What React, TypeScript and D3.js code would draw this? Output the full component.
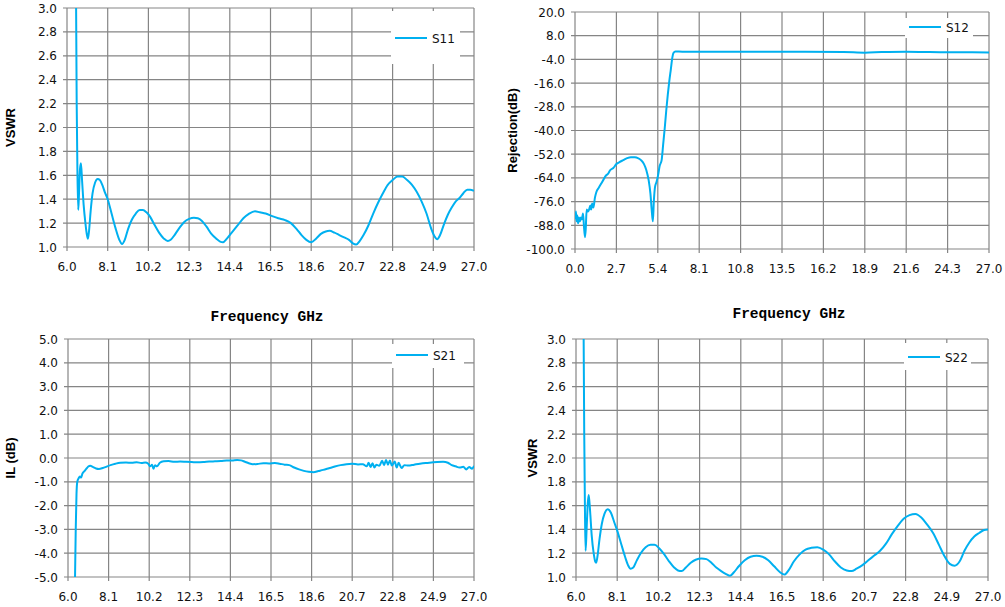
import React from 'react';
import * as d3 from 'd3';

// S11 - VSWR, 6..27 GHz
const s11Freq = [6.47, 6.5, 6.54, 6.58, 6.62, 6.67, 6.72, 6.78, 6.86, 6.95, 7.03, 7.08, 7.14, 7.22, 7.32, 7.45, 7.58, 7.7, 7.82, 7.95, 8.1, 8.3, 8.5, 8.7, 8.84, 8.98, 9.15, 9.35, 9.55, 9.75, 9.92, 10.1, 10.3, 10.5, 10.75, 11.0, 11.2, 11.35, 11.55, 11.8, 12.05, 12.3, 12.55, 12.75, 12.95, 13.2, 13.45, 13.7, 13.9, 14.05, 14.25, 14.5, 14.8, 15.1, 15.4, 15.7, 15.95, 16.25, 16.55, 16.9, 17.25, 17.55, 17.85, 18.1, 18.35, 18.6, 18.85, 19.1, 19.35, 19.55, 19.8, 20.05, 20.3, 20.55, 20.75, 20.92, 21.1, 21.3, 21.55, 21.8, 22.05, 22.3, 22.55, 22.8, 23.05, 23.3, 23.55, 23.8, 24.05, 24.3, 24.55, 24.8, 25.0, 25.1, 25.25, 25.45, 25.65, 25.85, 26.05, 26.25, 26.45, 26.65, 26.8, 27.0];
const s11Vswr = [3.0, 2.2, 1.6, 1.31, 1.45, 1.65, 1.7, 1.55, 1.35, 1.2, 1.1, 1.07, 1.14, 1.3, 1.45, 1.54, 1.57, 1.56, 1.52, 1.46, 1.4, 1.28, 1.16, 1.06, 1.025, 1.06, 1.15, 1.23, 1.28, 1.31, 1.31, 1.29, 1.25, 1.19, 1.12, 1.07, 1.05, 1.06, 1.1, 1.16, 1.21, 1.235, 1.245, 1.24, 1.22, 1.17, 1.11, 1.07, 1.045, 1.04, 1.07, 1.12, 1.18, 1.24, 1.28, 1.3, 1.29, 1.28, 1.26, 1.24, 1.225, 1.2, 1.15, 1.1, 1.06, 1.04, 1.07, 1.11, 1.13, 1.135, 1.12, 1.1, 1.08, 1.06, 1.03, 1.02, 1.05, 1.1, 1.18, 1.28, 1.37, 1.45, 1.52, 1.56, 1.59, 1.59, 1.56, 1.52, 1.46, 1.38, 1.28, 1.15, 1.08, 1.065, 1.1, 1.19, 1.27, 1.33, 1.38, 1.41, 1.45, 1.48, 1.48, 1.47];

// S12 - rejection, 0..27 GHz
const s12Freq = [0.02, 0.06, 0.1, 0.15, 0.2, 0.26, 0.32, 0.38, 0.45, 0.52, 0.58, 0.65, 0.7, 0.76, 0.85, 0.92, 1.0, 1.05, 1.12, 1.2, 1.3, 1.4, 1.55, 1.7, 1.85, 2.0, 2.15, 2.3, 2.5, 2.7, 2.9, 3.15, 3.4, 3.65, 3.9, 4.1, 4.3, 4.5, 4.65, 4.8, 4.92, 5.0, 5.08, 5.14, 5.22, 5.32, 5.41, 5.52, 5.65, 5.75, 5.85, 5.95, 6.05, 6.15, 6.25, 6.35, 6.42, 6.55, 7.0, 9.0, 12.0, 15.0, 17.5, 18.9, 20.0, 21.6, 23.0, 24.3, 25.5, 27.0];
const s12Rej = [-85, -81, -86, -83, -87, -84, -86, -84, -85, -82, -88, -94, -90, -80, -81, -80, -78, -80, -77, -79, -74, -71, -69, -67, -65, -63, -62, -60, -59, -57, -56, -55, -54, -53.5, -53.6, -54, -55, -57, -60, -65, -72, -80, -86, -76, -68.5, -66, -63, -58, -55, -47, -39, -30, -22, -15, -9, -3, -0.8, 0, -0.1, -0.1, -0.1, -0.1, -0.2, -0.6, -0.3, -0.1, -0.3, -0.4, -0.4, -0.5];

// S21 - insertion loss, 6..27 GHz
const s21Freq = [6.36, 6.4, 6.44, 6.48, 6.55, 6.62, 6.68, 6.75, 6.85, 6.95, 7.05, 7.15, 7.3, 7.45, 7.6, 7.8, 8.0, 8.2, 8.45, 8.7, 9.0, 9.3, 9.55, 9.8, 10.0, 10.15, 10.25, 10.35, 10.42, 10.5, 10.6, 10.75, 10.95, 11.2, 11.5, 11.8, 12.1, 12.4, 12.7, 13.0, 13.3, 13.6, 13.9, 14.2, 14.5, 14.75, 14.95, 15.15, 15.35, 15.55, 15.8, 16.1, 16.4, 16.7, 16.95, 17.2, 17.45, 17.7, 17.95, 18.2, 18.45, 18.7, 18.95, 19.2, 19.5, 19.8, 20.1, 20.4, 20.7, 21.0, 21.25, 21.45, 21.55, 21.65, 21.75, 21.85, 21.95, 22.1, 22.25, 22.35, 22.45, 22.55, 22.65, 22.75, 22.9, 23.0, 23.1, 23.25, 23.4, 23.6, 23.9, 24.2, 24.5, 24.8, 25.1, 25.4, 25.65, 25.85, 26.05, 26.25, 26.45, 26.6, 26.75, 26.9, 27.0];
const s21Il = [-5.2, -3.0, -1.5, -1.0, -0.85, -0.78, -0.82, -0.65, -0.55, -0.45, -0.36, -0.33, -0.38, -0.44, -0.46, -0.42, -0.36, -0.3, -0.24, -0.2, -0.19, -0.2, -0.18, -0.21, -0.19, -0.24, -0.35, -0.28, -0.45, -0.3, -0.35, -0.2, -0.14, -0.13, -0.16, -0.15, -0.16, -0.17, -0.18, -0.17, -0.15, -0.14, -0.13, -0.11, -0.1, -0.08, -0.1, -0.16, -0.22, -0.26, -0.25, -0.22, -0.23, -0.21, -0.24, -0.28, -0.3, -0.4, -0.48, -0.54, -0.58, -0.6, -0.55, -0.5, -0.43, -0.36, -0.3, -0.26, -0.24, -0.27, -0.26, -0.35, -0.2, -0.38, -0.22, -0.4, -0.28, -0.33, -0.12, -0.3, -0.08, -0.28, -0.1, -0.32, -0.15, -0.4, -0.2, -0.42, -0.3, -0.32, -0.28, -0.24, -0.21, -0.19, -0.17, -0.16, -0.2, -0.3, -0.35, -0.4, -0.37, -0.48, -0.38, -0.45, -0.33];

// S22 - VSWR, 6..27 GHz
const s22Freq = [6.39, 6.42, 6.46, 6.49, 6.54, 6.6, 6.65, 6.72, 6.8, 6.9, 6.98, 7.03, 7.1, 7.2, 7.32, 7.45, 7.62, 7.78, 7.95, 8.1, 8.3, 8.5, 8.65, 8.78, 8.92, 9.1, 9.3, 9.55, 9.8, 10.0, 10.25, 10.5, 10.75, 11.0, 11.2, 11.38, 11.6, 11.85, 12.1, 12.4, 12.65, 12.9, 13.15, 13.4, 13.65, 13.85, 14.05, 14.3, 14.6, 14.9, 15.2, 15.5, 15.8, 16.1, 16.4, 16.62, 16.85, 17.1, 17.4, 17.7, 18.0, 18.3, 18.6, 18.9, 19.2, 19.5, 19.8, 20.05, 20.3, 20.6, 20.9, 21.2, 21.5, 21.8, 22.1, 22.4, 22.7, 23.0, 23.3, 23.6, 23.9, 24.2, 24.5, 24.8, 25.05, 25.3, 25.55, 25.8, 26.05, 26.3, 26.55, 26.8, 27.0];
const s22Vswr = [3.0, 2.2, 1.5, 1.22, 1.4, 1.62, 1.69, 1.55, 1.35, 1.2, 1.13, 1.12, 1.18, 1.32, 1.45, 1.53, 1.57, 1.54, 1.46, 1.39, 1.28, 1.17, 1.1, 1.07, 1.08, 1.14, 1.2, 1.25, 1.27, 1.27, 1.24, 1.19, 1.13, 1.08, 1.055, 1.05, 1.08, 1.12, 1.145, 1.155, 1.15, 1.12, 1.08, 1.05, 1.025, 1.01, 1.04, 1.09, 1.14, 1.17, 1.178, 1.17, 1.14, 1.09, 1.04, 1.02, 1.06, 1.13, 1.19, 1.23, 1.245, 1.25, 1.23, 1.19, 1.13, 1.08, 1.055, 1.05, 1.07, 1.1, 1.14, 1.18, 1.22, 1.28, 1.36, 1.43, 1.49, 1.52, 1.53, 1.5, 1.44, 1.37, 1.27, 1.17, 1.11, 1.095, 1.13, 1.22, 1.29, 1.34, 1.37, 1.395, 1.4];

const freqTicks6 = [6.0, 8.1, 10.2, 12.3, 14.4, 16.5, 18.6, 20.7, 22.8, 24.9, 27.0];
const freqTicks0 = [0.0, 2.7, 5.4, 8.1, 10.8, 13.5, 16.2, 18.9, 21.6, 24.3, 27.0];
const vswrTicks = [1.0, 1.2, 1.4, 1.6, 1.8, 2.0, 2.2, 2.4, 2.6, 2.8, 3.0];
const rejTicks = [-100, -88, -76, -64, -52, -40, -28, -16, -4, 8, 20];
const ilTicks = [-5, -4, -3, -2, -1, 0, 1, 2, 3, 4, 5];

const LINE = '#00b0f0';
const GRID = '#858585';
const TICK_FONT = "'DejaVu Sans', Verdana, sans-serif";

interface PanelProps {
  id: string;
  x0: number; x1: number; y0: number; y1: number;
  xTicks: number[]; yTicks: number[];
  freq: number[]; vals: number[];
  name: string; yTitle: string; titleX: number;
  legend: { x: number; y: number; w: number; h: number; ly: number };
}

const Panel: React.FC<PanelProps> = (p) => {
  const x = d3.scaleLinear().domain([p.xTicks[0], p.xTicks[p.xTicks.length - 1]]).range([p.x0, p.x1]);
  const y = d3.scaleLinear().domain([p.yTicks[0], p.yTicks[p.yTicks.length - 1]]).range([p.y1, p.y0]);
  const pts = p.freq.map((f, i) => [f, p.vals[i]] as [number, number]);
  const line = d3.line<[number, number]>()
    .x(d => x(d[0]))
    .y(d => y(d[1]))
    .curve(d3.curveMonotoneX);
  const cy = (p.y0 + p.y1) / 2;

  return (
    <g>
      <defs>
        <clipPath id={p.id}>
          <rect x={p.x0} y={p.y0} width={p.x1 - p.x0} height={p.y1 - p.y0} />
        </clipPath>
      </defs>
      {p.xTicks.map((t, i) => (
        <g key={'x' + i}>
          <line x1={x(t)} x2={x(t)} y1={p.y0} y2={p.y1 + 4} stroke={GRID} strokeWidth={1.2} />
          <text x={x(t)} y={p.y1 + 24} textAnchor="middle" fontSize={12} fontFamily={TICK_FONT} fill="#111">
            {t.toFixed(1)}
          </text>
        </g>
      ))}
      {p.yTicks.map((t, i) => (
        <g key={'y' + i}>
          <line x1={p.x0 - 4} x2={p.x1} y1={y(t)} y2={y(t)} stroke={GRID} strokeWidth={1.2} />
          <text x={p.x0 - 10} y={y(t) + 4.5} textAnchor="end" fontSize={12} fontFamily={TICK_FONT} fill="#111">
            {t.toFixed(1)}
          </text>
        </g>
      ))}
      <text
        transform={`translate(${p.titleX},${cy}) rotate(-90)`}
        textAnchor="middle"
        dominantBaseline="central"
        fontSize={13}
        fontWeight="bold"
        fontFamily="'Liberation Sans', Arial, sans-serif"
      >
        {p.yTitle}
      </text>
      <path d={line(pts) || ''} fill="none" stroke={LINE} strokeWidth={2} clipPath={`url(#${p.id})`} />
      <rect x={p.legend.x} y={p.legend.y} width={p.legend.w} height={p.legend.h} fill="#fff" />
      <line x1={p.legend.x + 4} x2={p.legend.x + 36} y1={p.legend.ly} y2={p.legend.ly} stroke={LINE} strokeWidth={2} />
      <text x={p.legend.x + 41} y={p.legend.ly + 4.5} fontSize={12} fontFamily={TICK_FONT} fill="#111">
        {p.name}
      </text>
    </g>
  );
};

const App: React.FC = () => {
  return (
    <svg width={1005} height={607} style={{ position: 'absolute', left: 0, top: 0, background: '#fff' }}>
      <rect width={1005} height={607} fill="#fff" />
      <Panel id="c11" x0={67} x1={474} y0={8} y1={247} xTicks={freqTicks6} yTicks={vswrTicks}
        freq={s11Freq} vals={s11Vswr} name="S11" yTitle="VSWR" titleX={10}
        legend={{ x: 391, y: 11, w: 69, h: 53, ly: 38 }} />
      <Panel id="c12" x0={575} x1={989} y0={12} y1={249} xTicks={freqTicks0} yTicks={rejTicks}
        freq={s12Freq} vals={s12Rej} name="S12" yTitle="Rejection(dB)" titleX={512}
        legend={{ x: 905, y: 18, w: 68, h: 20, ly: 27 }} />
      <Panel id="c21" x0={68} x1={474} y0={339} y1={577} xTicks={freqTicks6} yTicks={ilTicks}
        freq={s21Freq} vals={s21Il} name="S21" yTitle="IL (dB)" titleX={10}
        legend={{ x: 392, y: 344, w: 72, h: 24, ly: 355 }} />
      <Panel id="c22" x0={576} x1={988} y0={339} y1={577} xTicks={freqTicks6} yTicks={vswrTicks}
        freq={s22Freq} vals={s22Vswr} name="S22" yTitle="VSWR" titleX={532}
        legend={{ x: 904, y: 343, w: 67, h: 27, ly: 357 }} />
      <text x={267} y={317} textAnchor="middle" dominantBaseline="central" fontSize={14.5} fontWeight="bold"
        fontFamily="'Liberation Mono', 'Courier New', monospace">Frequency GHz</text>
      <text x={789} y={314} textAnchor="middle" dominantBaseline="central" fontSize={14.5} fontWeight="bold"
        fontFamily="'Liberation Mono', 'Courier New', monospace">Frequency GHz</text>
    </svg>
  );
};

export default App;
